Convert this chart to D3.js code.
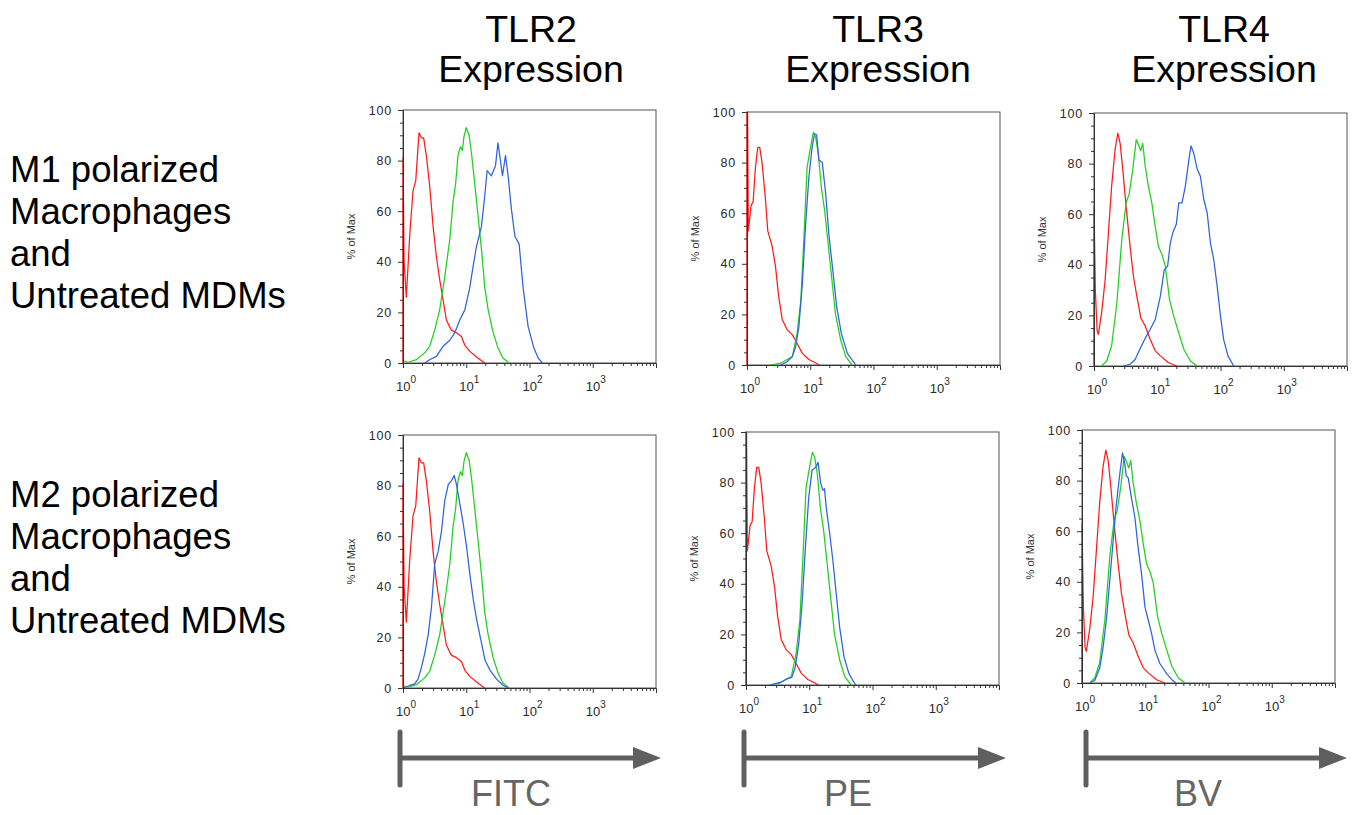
<!DOCTYPE html>
<html>
<head>
<meta charset="utf-8">
<script src="https://cdn.jsdelivr.net/npm/d3@7"></script>
<style>
  html, body { margin: 0; padding: 0; background: #fff; }
  svg { display: block; font-family: "Liberation Sans", Arial, sans-serif; }
</style>
</head>
<body>
<script>
// histogram traces: [fluorescence intensity, % of Max]
const tlr2Isotype = [[1,0],[1,81],[1.04,40],[1.13,26],[1.28,51],[1.44,68],[1.59,72],[1.79,91],[1.95,89],[2.12,89],[2.34,82],[2.64,70],[2.99,54],[3.37,42],[3.8,33],[4.3,25],[4.85,17],[5.8,13],[7.0,12],[8.4,10.5],[9.5,7],[11.4,4.6],[14.5,2.4],[19.6,0]];
const tlr2Untreated = [[1,1],[1.2,0.3],[1.63,1.3],[2.2,4],[2.64,6.6],[3.17,13],[3.8,21],[4.57,34],[5.5,49],[6.2,64],[6.8,71],[7.4,82],[8.1,85.5],[8.7,84],[9.2,89.5],[10,93],[11.1,90],[12.1,83],[13.6,71],[15.4,58],[17.4,45],[19.6,30],[22.2,21],[26.6,12],[31.7,6],[38,2],[47.5,0]];
const tlr2M1 = [[2.2,0],[2.64,1.3],[3.37,2.6],[4.3,6.6],[5.5,9],[6.6,12],[7.9,17],[9.5,21],[11.4,30],[12.8,38],[14.5,46],[17.4,54],[19.6,66],[21.4,76],[25,74],[29,78],[31.7,87],[34.7,80],[37.4,74],[41.7,82],[45.9,74],[51.9,60.5],[58.9,50],[68.6,47],[79,30],[95,14.5],[117,6],[137,2],[160,0]];
const tlr2M2 = [[1,0],[1.28,1],[1.53,1.6],[1.73,3.5],[1.95,8],[2.2,13.5],[2.5,21],[2.82,32],[3.17,49],[3.6,54],[4.06,62],[4.57,74],[5.2,80.5],[5.85,82],[6.45,84],[7,80.5],[7.9,73],[8.95,65],[10.1,56],[11.4,45],[12.9,35],[14.6,27],[17,19],[19.8,11],[23.8,7],[30.2,3.5],[38.6,1],[46.4,0]];

const tlr3Isotype = [[1,0],[1,100],[1.02,100],[1.05,53],[1.16,63],[1.25,64.5],[1.36,78],[1.48,86],[1.59,86],[1.73,80],[1.95,66],[2.13,53],[2.5,47],[2.82,39],[3.17,27],[3.6,18],[4.3,14],[5.2,12],[6.2,8.5],[7.5,4.6],[9.5,2.2],[12.9,0.5],[14,0]];
const tlr3Untreated = [[2.34,0],[3.4,0.7],[4.3,2.2],[5.2,3.3],[6.2,12.5],[7.1,25.6],[8,52],[8.9,78],[10.1,86],[11.2,92],[12.2,90],[13.4,83.5],[15,70],[16.9,61],[19,49],[21.5,36],[25.1,20],[30.2,10],[36.4,3.3],[46,0]];
const tlr3M1 = [[3.4,0],[4.3,1.3],[5.2,3.3],[5.85,7],[6.6,15],[7.5,32],[8.4,54.6],[9.5,74],[10.7,86],[11.7,91.4],[12.6,91],[13.7,81],[15.5,80],[17.5,68],[19.8,51],[22.4,39],[26.2,23],[31,12.5],[38.6,4.6],[52.5,0]];
const tlr3M2 = [[2.4,0],[3.47,1],[4.4,2.4],[5.3,3],[6,7],[6.8,16],[7.7,32],[8.7,54.5],[9.8,74],[11.1,85],[12.6,86],[13.8,88],[15.1,80],[16.4,77],[17.4,77.6],[18.6,70],[21,60],[23.7,49],[26.7,36],[30.2,23],[35.5,11],[42.6,4.4],[54,0]];

const tlr4Isotype = [[1,0],[1,63],[1.05,30],[1.12,14],[1.17,12.5],[1.32,21],[1.5,34],[1.69,52.6],[1.9,71],[2.15,85.5],[2.38,92],[2.59,88],[2.85,77.6],[3.22,63],[3.73,47],[4.2,35.5],[4.75,27.6],[5.5,19],[6.45,15.8],[7.75,10.5],[9.3,6],[11.2,4],[15.1,1.3],[20.5,0]];
const tlr4Untreated = [[1.32,0],[1.59,2],[1.9,8],[2.3,25],[2.75,50],[3.22,64.5],[3.6,68],[4.1,77.6],[4.65,89.5],[5.05,87.5],[5.5,85],[5.9,88],[6.45,79],[7.25,71],[8.2,64.5],[9.3,55],[10.5,47],[11.9,44],[13.4,39.5],[15.7,26],[18.2,19.7],[21.9,13],[26.3,6.6],[33.4,2],[42.6,0]];
const tlr4M1 = [[2.92,0],[3.7,0.7],[4.47,2.6],[5.4,7],[6.45,11],[7.75,14.5],[9.3,18.4],[11.2,27.6],[12.9,38],[14.6,39.5],[16.1,48.7],[17.8,53],[20,56],[21.9,64.5],[24.6,64.5],[27.8,71],[31.6,81.5],[34.2,87],[37.8,84],[42.7,78],[48,75],[54.3,66],[61.6,60.5],[69.2,48.7],[78.3,42],[88.5,31.6],[100,19.7],[112,10.5],[131,4],[162,0]];
const tlr4M2 = [[1.32,0],[1.59,1],[1.91,6],[2.15,14],[2.43,25],[2.75,40.5],[3.1,56],[3.5,71],[3.96,82.6],[4.37,91],[4.75,86.6],[5.0,82],[5.4,81],[6.07,73],[6.85,65.5],[7.7,53.7],[8.75,43],[9.9,30],[11.2,24.7],[12.6,19.5],[14.2,13],[17.1,7.6],[21.8,3.7],[26.3,1.3],[30.7,0]];

const columnTitles = ["TLR2", "TLR3", "TLR4"];
const rowTitles = [
  ["M1 polarized", "Macrophages", "and", "Untreated MDMs"],
  ["M2 polarized", "Macrophages", "and", "Untreated MDMs"]
];
const channels = ["FITC", "PE", "BV"];
const yTicks = [0, 20, 40, 60, 80, 100];
const xTicks = [1, 10, 100, 1000];
const xTickExp = ["0", "1", "2", "3"];

// [row][col] -> [isotype, untreated, polarized]
const panels = [
  [[tlr2Isotype, tlr2Untreated, tlr2M1], [tlr3Isotype, tlr3Untreated, tlr3M1], [tlr4Isotype, tlr4Untreated, tlr4M1]],
  [[tlr2Isotype, tlr2Untreated, tlr2M2], [tlr3Isotype, tlr3Untreated, tlr3M2], [tlr4Isotype, tlr4Untreated, tlr4M2]]
];

const W = 1355, H = 815;
const plotW = 253, plotH = 253;
// plot origins (left, top) per row/col
const plotPos = [
  [[403, 110], [747, 112], [1094, 113]],
  [[403, 435], [746, 432], [1082, 430]]
];
const colCenters = [531, 878, 1224];
const traceColors = ["#ff1a1a", "#1fd11f", "#2f62e0"];

const svg = d3.select("body").append("svg")
  .attr("width", W)
  .attr("height", H);

// column headers
columnTitles.forEach((t, i) => {
  const g = svg.append("text")
    .attr("text-anchor", "middle")
    .attr("font-size", 37.5)
    .attr("fill", "#000");
  g.append("tspan").attr("x", colCenters[i]).attr("y", 42).text(t);
  g.append("tspan").attr("x", colCenters[i]).attr("y", 82).text("Expression");
});

// row headers
const rowY = [182, 507];
rowTitles.forEach((lines, r) => {
  const t = svg.append("text").attr("font-size", 36.5).attr("fill", "#000");
  lines.forEach((l, k) => {
    t.append("tspan").attr("x", 10).attr("y", rowY[r] + k * 42).text(l);
  });
});

// minor ticks for log axis (tick positions, not data)
const minorX = [];
for (let d = 0; d < 4; d++) {
  for (let k = 2; k <= 9; k++) minorX.push(k * Math.pow(10, d));
}
const minorY = d3.range(5, 100, 5).filter(v => v % 20 !== 0);

panels.forEach((row, r) => {
  row.forEach((traces, c) => {
    const [px, py] = plotPos[r][c];
    const g = svg.append("g").attr("transform", `translate(${px},${py})`);

    const x = d3.scaleLog().domain([1, 10000]).range([0, plotW]);
    const y = d3.scaleLinear().domain([0, 100]).range([plotH, 0]);

    // frame
    g.append("rect")
      .attr("width", plotW)
      .attr("height", plotH)
      .attr("fill", "none")
      .attr("stroke", "#555")
      .attr("stroke-width", 1);

    const line = d3.line().x(d => x(d[0])).y(d => y(d[1]));

    traces.forEach((tr, i) => {
      g.append("path")
        .datum(tr)
        .attr("d", line)
        .attr("fill", "none")
        .attr("stroke", traceColors[i])
        .attr("stroke-width", 1.25)
        .attr("stroke-linejoin", "round");
    });

    // y axis
    const yAxis = g.append("g")
      .call(d3.axisLeft(y).tickValues(yTicks).tickSize(5).tickPadding(6));
    yAxis.select(".domain").attr("stroke", "#333");
    yAxis.selectAll(".tick line").attr("stroke", "#333");
    yAxis.selectAll("text")
      .attr("font-size", 12.5)
      .attr("letter-spacing", 0.8)
      .attr("fill", "#2a2a2a")
      .attr("font-family", "Liberation Sans, Arial, sans-serif");
    const yMinor = g.append("g")
      .call(d3.axisLeft(y).tickValues(minorY).tickSize(3).tickFormat(""));
    yMinor.select(".domain").remove();
    yMinor.selectAll(".tick line").attr("stroke", "#333");

    // x axis
    const xAxis = g.append("g")
      .attr("transform", `translate(0,${plotH})`)
      .call(d3.axisBottom(x).tickValues(xTicks).tickSize(5).tickFormat(""));
    xAxis.select(".domain").attr("stroke", "#333");
    xAxis.selectAll(".tick line").attr("stroke", "#333");
    const xMinor = g.append("g")
      .attr("transform", `translate(0,${plotH})`)
      .call(d3.axisBottom(x).tickValues(minorX).tickSize(3).tickFormat(""));
    xMinor.select(".domain").remove();
    xMinor.selectAll(".tick line").attr("stroke", "#333");

    // 10^n labels
    xTicks.forEach((v, k) => {
      const lab = g.append("text")
        .attr("x", x(v) - 7)
        .attr("y", plotH + 28)
        .attr("font-size", 13)
        .attr("fill", "#2a2a2a");
      lab.append("tspan").text("10");
      lab.append("tspan")
        .attr("dy", -8)
        .attr("font-size", 10)
        .text(xTickExp[k]);
    });

    // y title
    g.append("text")
      .attr("transform", `translate(-51,${plotH / 2}) rotate(-90)`)
      .attr("text-anchor", "middle")
      .attr("dominant-baseline", "middle")
      .attr("font-size", 11)
      .attr("fill", "#333")
      .text("% of Max");
  });
});

// channel arrows under each column
const arrowStart = [400, 744, 1086];
const arrowEnd = [661, 1006, 1347];
const labelCenters = [511, 848, 1198];
const arrowColor = "#5f5f5f";
channels.forEach((ch, i) => {
  const a = svg.append("g");
  a.append("line")
    .attr("x1", arrowStart[i]).attr("x2", arrowStart[i])
    .attr("y1", 732).attr("y2", 785)
    .attr("stroke", arrowColor)
    .attr("stroke-width", 5)
    .attr("stroke-linecap", "round");
  a.append("line")
    .attr("x1", arrowStart[i]).attr("x2", arrowEnd[i] - 26)
    .attr("y1", 758).attr("y2", 758)
    .attr("stroke", arrowColor)
    .attr("stroke-width", 5);
  a.append("path")
    .attr("d", `M${arrowEnd[i] - 28},${747} L${arrowEnd[i]},${758} L${arrowEnd[i] - 28},${769} Z`)
    .attr("fill", arrowColor);
  a.append("text")
    .attr("x", labelCenters[i])
    .attr("y", 806)
    .attr("text-anchor", "middle")
    .attr("font-size", 36)
    .attr("fill", "#666")
    .text(ch);
});
</script>
</body>
</html>
